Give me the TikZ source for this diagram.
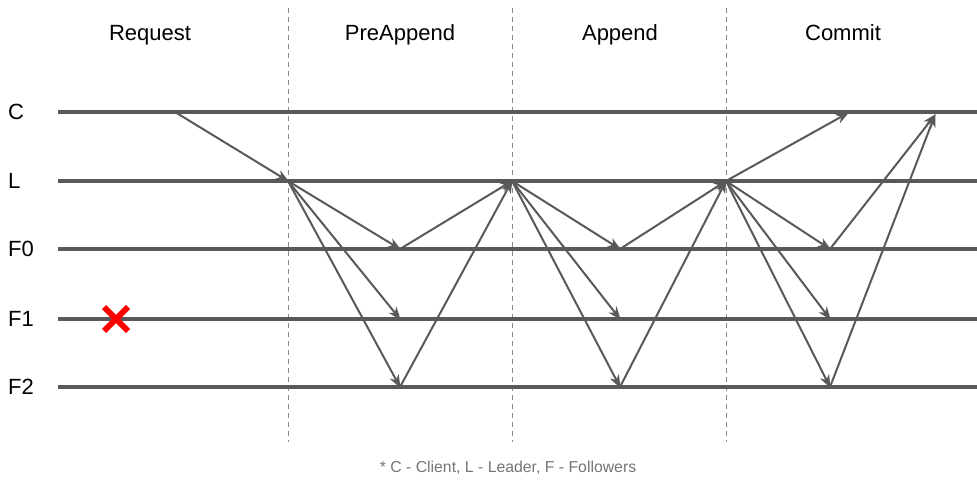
\documentclass[tikz,border=0pt]{standalone}
\usepackage{fontspec}
\setmainfont{Liberation Sans}
\usetikzlibrary{arrows.meta}
\definecolor{lane}{HTML}{595959}
\definecolor{guide}{HTML}{8A8A8A}
\definecolor{note}{HTML}{757575}
\begin{document}
\begin{tikzpicture}[x=1pt,y=-1pt,
  lanestyle/.style={draw=lane,line width=4pt},
  phase/.style={draw=guide,line width=1pt,dash pattern=on 5pt off 4pt},
  msg/.style={draw=lane,line width=2pt,-{Stealth[length=13pt,width=10pt,inset=4pt]},shorten >=-1pt},
  title/.style={font=\fontsize{22}{25}\selectfont,text=black,anchor=base},
  rowlabel/.style={font=\fontsize{22}{25}\selectfont,text=black,anchor=west,inner sep=0pt},
  footnote/.style={font=\fontsize{15.8}{18}\selectfont,text=note}]
\useasboundingbox (0,0) rectangle (977,481);

% phase separators
\foreach \px/\nm in {288/pa,512/pb,726/pc}{
  \coordinate (\nm-top) at (\px,8);
  \coordinate (\nm-bot) at (\px,442);
  \draw[phase] (\nm-top) -- (\nm-bot);
}

% phase titles
\node[title] (tReq) at (150,41) {Request};
\node[title] (tPre) at (400,41) {PreAppend};
\node[title] (tApp) at (620,41) {Append};
\node[title] (tCom) at (843,41) {Commit};

% lanes
\foreach \ly/\nm/\lbl in {112/C/C,181/L/L,249/F0/F0,319/F1/F1,387/F2/F2}{
  \node[rowlabel] (lbl\nm) at (8,\ly) {\lbl};
  \coordinate (\nm-start) at (58,\ly);
  \coordinate (\nm-end) at (977,\ly);
  \draw[lanestyle] (\nm-start) -- (\nm-end);
}

% events
\coordinate (c0) at (175,112);
\coordinate (l1) at (288,181);
\coordinate (f01) at (400,249);
\coordinate (f11) at (400,319);
\coordinate (f21) at (400,387);
\coordinate (l2) at (512,181);
\coordinate (f02) at (620,249);
\coordinate (f12) at (620,319);
\coordinate (f22) at (620,387);
\coordinate (l3) at (726,181);
\coordinate (f03) at (830,249);
\coordinate (f13) at (830,319);
\coordinate (f23) at (830,387);
\coordinate (c1) at (848,113);
\coordinate (c2) at (935,115);

% messages
\draw[msg] (c0) -- (l1);
\draw[msg] (l1) -- (f01);
\draw[msg] (l1) -- (f11);
\draw[msg] (l1) -- (f21);
\draw[msg] (f01) -- (l2);
\draw[msg] (f21) -- (l2);
\draw[msg] (l2) -- (f02);
\draw[msg] (l2) -- (f12);
\draw[msg] (l2) -- (f22);
\draw[msg] (f02) -- (l3);
\draw[msg] (f22) -- (l3);
\draw[msg] (l3) -- (f03);
\draw[msg] (l3) -- (f13);
\draw[msg] (l3) -- (f23);
\draw[msg] (l3) -- (c1);
\draw[msg] (f03) -- (c2);
\draw[msg] (f23) -- (c2);

% failed follower
\coordinate (xa) at (104,307);
\coordinate (xb) at (128,331);
\coordinate (xc) at (104,331);
\coordinate (xd) at (128,307);
\draw[red,line width=6pt] (xa) -- (xb) (xc) -- (xd);

% legend
\node[footnote] (legend) at (508,468) {* C - Client, L - Leader, F - Followers};
\end{tikzpicture}
\end{document}
